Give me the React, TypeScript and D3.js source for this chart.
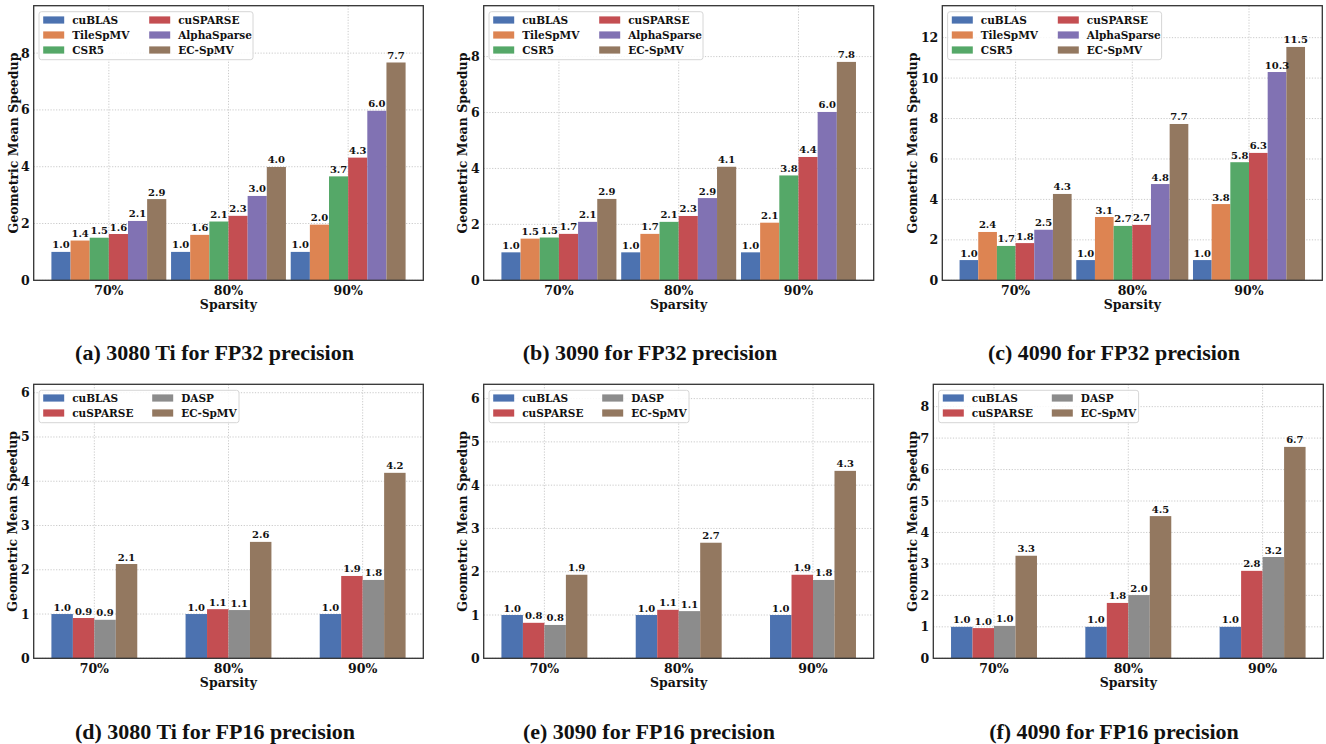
import React from "react";
import * as d3 from "d3";

const categories = ["70%", "80%", "90%"];

const fp32Series = ["cuBLAS", "TileSpMV", "CSR5", "cuSPARSE", "AlphaSparse", "EC-SpMV"];
const fp32Colors = ["#4C72B0", "#DD8452", "#55A868", "#C44E52", "#8172B3", "#937860"];

const fp16Series = ["cuBLAS", "cuSPARSE", "DASP", "EC-SpMV"];
const fp16Colors = ["#4C72B0", "#C44E52", "#8C8C8C", "#937860"];

// values per series, per sparsity category
const fp32_3080ti = [
  [1.0, 1.0, 1.0],
  [1.40, 1.60, 1.96],
  [1.50, 2.07, 3.66],
  [1.63, 2.27, 4.32],
  [2.09, 2.97, 5.97],
  [2.86, 3.99, 7.67],
];
const fp32_3090 = [
  [1.0, 1.0, 1.0],
  [1.49, 1.66, 2.06],
  [1.53, 2.09, 3.75],
  [1.66, 2.30, 4.41],
  [2.09, 2.94, 6.02],
  [2.91, 4.06, 7.81],
];
const fp32_4090 = [
  [1.0, 1.0, 1.0],
  [2.39, 3.13, 3.77],
  [1.70, 2.69, 5.84],
  [1.84, 2.74, 6.30],
  [2.50, 4.76, 10.30],
  [4.27, 7.73, 11.54],
];
const fp16_3080ti = [
  [1.0, 1.0, 1.0],
  [0.91, 1.11, 1.86],
  [0.87, 1.09, 1.77],
  [2.13, 2.63, 4.19],
];
const fp16_3090 = [
  [1.0, 1.0, 1.0],
  [0.82, 1.12, 1.93],
  [0.77, 1.09, 1.81],
  [1.93, 2.67, 4.33],
];
const fp16_4090 = [
  [1.0, 1.0, 1.0],
  [0.96, 1.76, 2.78],
  [1.03, 2.01, 3.22],
  [3.26, 4.52, 6.72],
];

const ticks32a = [0, 2, 4, 6, 8];
const ticks32c = [0, 2, 4, 6, 8, 10, 12];
const ticks16de = [0, 1, 2, 3, 4, 5, 6];
const ticks16f = [0, 1, 2, 3, 4, 5, 6, 7, 8];

const captions = [
  "(a) 3080 Ti for FP32 precision",
  "(b) 3090 for FP32 precision",
  "(c) 4090 for FP32 precision",
  "(d) 3080 Ti for FP16 precision",
  "(e) 3090 for FP16 precision",
  "(f) 4090 for FP16 precision",
];

const AX = "DejaVu Serif";
const BAR_W = 0.16;

type PanelProps = {
  left: number;
  right: number;
  top: number;
  bottom: number;
  ymax: number;
  yticks: number[];
  series: string[];
  colors: string[];
  values: number[][];
  ylabelOffset: number;
  caption: string;
  captionX: number;
  captionY: number;
};

function Panel(p: PanelProps) {
  const n = p.series.length;
  const half = (n * BAR_W) / 2;
  const span = 2 + 2 * half;
  const x = d3.scaleLinear().domain([-half - 0.05 * span, 2 + half + 0.05 * span]).range([p.left, p.right]);
  const y = d3.scaleLinear().domain([0, p.ymax]).range([p.bottom, p.top]);
  const bw = x(BAR_W) - x(0);
  const rows = Math.ceil(n / 2);
  const big = n === 6;
  const legW = big ? 214 : 200;
  const legH = big ? 48 : 32.4;
  const rowY0 = big ? 14.3 : 13.7;
  const col2 = big ? 106 : 109;
  const gridStyle = { stroke: "#bdbdbd", strokeWidth: 0.8, strokeDasharray: "1.2,1.6" };
  return (
    <g>
      {/* grid */}
      {p.yticks.map((t) => (
        <line key={"gy" + t} x1={p.left} x2={p.right} y1={y(t)} y2={y(t)} {...gridStyle} />
      ))}
      {categories.map((c, i) => (
        <line key={"gx" + c} x1={x(i)} x2={x(i)} y1={p.top} y2={p.bottom} {...gridStyle} />
      ))}
      {/* bars */}
      {p.values.map((vals, si) =>
        vals.map((v, ci) => {
          const cx = ci + (si - (n - 1) / 2) * BAR_W;
          return (
            <rect
              key={"b" + si + "_" + ci}
              x={x(cx - BAR_W / 2)}
              y={y(v)}
              width={bw}
              height={y(0) - y(v)}
              fill={p.colors[si]}
            />
          );
        })
      )}
      {/* value labels */}
      {p.values.map((vals, si) =>
        vals.map((v, ci) => {
          const cx = ci + (si - (n - 1) / 2) * BAR_W;
          return (
            <text
              key={"l" + si + "_" + ci}
              x={x(cx)}
              y={y(v) - 3.5}
              textAnchor="middle"
              fontFamily={AX}
              fontWeight="bold"
              fontSize={10}
              fill="#111"
            >
              {v.toFixed(1)}
            </text>
          );
        })
      )}
      {/* spines */}
      <rect x={p.left} y={p.top} width={p.right - p.left} height={p.bottom - p.top} fill="none" stroke="#333" strokeWidth={1.3} />
      {/* y ticks */}
      {p.yticks.map((t) => (
        <text key={"yt" + t} x={p.left - 4} y={y(t)} dy="0.36em" textAnchor="end" fontFamily={AX} fontWeight="bold" fontSize={12.5} fill="#111">
          {t}
        </text>
      ))}
      {/* x ticks */}
      {categories.map((c, i) => (
        <text key={"xt" + c} x={x(i)} y={p.bottom + 10} dy="0.36em" textAnchor="middle" fontFamily={AX} fontWeight="bold" fontSize={12.5} fill="#111">
          {c}
        </text>
      ))}
      <text x={(p.left + p.right) / 2} y={p.bottom + 24} dy="0.36em" textAnchor="middle" fontFamily={AX} fontWeight="bold" fontSize={12.5} fill="#111">
        Sparsity
      </text>
      <text
        transform={`translate(${p.left - p.ylabelOffset},${(p.top + p.bottom) / 2}) rotate(-90)`}
        textAnchor="middle"
        dy="0.36em"
        fontFamily={AX}
        fontWeight="bold"
        fontSize={12.5}
        fill="#111"
      >
        Geometric Mean Speedup
      </text>
      {/* legend */}
      <rect x={p.left + 5.3} y={p.top + 6} width={legW} height={legH} rx={2.5} fill="white" fillOpacity={0.85} stroke="#d6d6d6" strokeWidth={1} />
      {p.series.map((s, si) => {
        const col = Math.floor(si / rows);
        const row = si % rows;
        const px = p.left + 9.5 + col * col2;
        const py = p.top + rowY0 + row * 15;
        return (
          <g key={"lg" + s}>
            <rect x={px} y={py - 3.6} width={21} height={7.2} fill={p.colors[si]} />
            <text x={px + 29} y={py} dy="0.36em" fontFamily={AX} fontWeight="bold" fontSize={10.5} fill="#111">
              {s}
            </text>
          </g>
        );
      })}
      {/* caption */}
      <text x={p.captionX} y={p.captionY} textAnchor="middle" fontFamily="Liberation Serif" fontWeight="bold" fontSize={22} fill="#111">
        {p.caption}
      </text>
    </g>
  );
}

export default function App() {
  const topT = 5.7, topB = 280.3, botT = 384.3, botB = 658.3;
  return (
    <svg width={1326} height={744} style={{ position: "absolute", left: 0, top: 0, background: "white" }}>
      <rect width={1326} height={744} fill="white" />
      <Panel left={33.7} right={423.3} top={topT} bottom={topB} ymax={9.67} yticks={ticks32a} series={fp32Series} colors={fp32Colors} values={fp32_3080ti} ylabelOffset={20.5} caption={captions[0]} captionX={214.5} captionY={360} />
      <Panel left={483.7} right={873.7} top={topT} bottom={topB} ymax={9.82} yticks={ticks32a} series={fp32Series} colors={fp32Colors} values={fp32_3090} ylabelOffset={21} caption={captions[1]} captionX={650} captionY={360} />
      <Panel left={942.3} right={1322.3} top={topT} bottom={topB} ymax={13.58} yticks={ticks32c} series={fp32Series} colors={fp32Colors} values={fp32_4090} ylabelOffset={30} caption={captions[2]} captionX={1114} captionY={360} />
      <Panel left={33.7} right={423.3} top={botT} bottom={botB} ymax={6.19} yticks={ticks16de} series={fp16Series} colors={fp16Colors} values={fp16_3080ti} ylabelOffset={21} caption={captions[3]} captionX={215} captionY={739} />
      <Panel left={483.7} right={873.7} top={botT} bottom={botB} ymax={6.33} yticks={ticks16de} series={fp16Series} colors={fp16Colors} values={fp16_3090} ylabelOffset={21} caption={captions[4]} captionX={649} captionY={739} />
      <Panel left={933.3} right={1323.3} top={botT} bottom={botB} ymax={8.71} yticks={ticks16f} series={fp16Series} colors={fp16Colors} values={fp16_4090} ylabelOffset={21} caption={captions[5]} captionX={1114} captionY={739} />
    </svg>
  );
}
